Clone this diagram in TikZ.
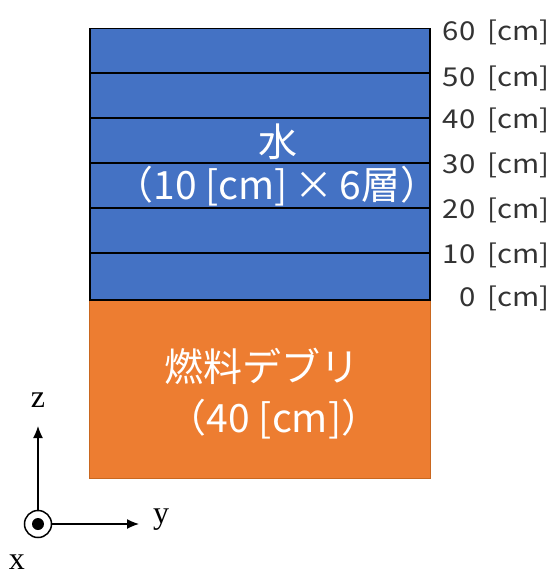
\documentclass[tikz,border=0pt]{standalone}
\usepackage{fontspec}
\setmainfont{Noto Sans CJK JP}
\newfontfamily\axfont{Liberation Serif}
\usetikzlibrary{arrows.meta}
\definecolor{wblue}{HTML}{4472C4}
\definecolor{forange}{HTML}{ED7D31}
\definecolor{oborder}{HTML}{C9671F}
\newcommand{\cmtxt}[1]{\scalebox{1.13}[1]{#1\hspace{0.42em}[cm]}}
\begin{document}
\begin{tikzpicture}[x=1pt,y=-1pt,
  mainlbl/.style={text=white,font=\fontsize{39}{42}\selectfont,inner sep=0pt},
  cmlbl/.style={text=black!80,font=\fontsize{26}{28}\selectfont,anchor=east,inner sep=0pt},
  axlbl/.style={font=\axfont\fontsize{32}{34}\selectfont,inner sep=0pt},
  axarrow/.style={line width=1.3pt,-{Latex[length=12pt,width=10pt]}}]
\useasboundingbox (0,0) rectangle (553,575);
% fuel debris
\node[draw=oborder,line width=0.8pt,fill=forange,minimum width=341pt,minimum height=179pt,inner sep=0pt,anchor=north west] (fuel) at (89,299) {};
% water
\node[draw=black,line width=1.5pt,fill=wblue,minimum width=340pt,minimum height=271pt,inner sep=0pt,anchor=north west] (water) at (89,28) {};
\foreach \yy in {73,118,163,208,253}
  \draw[line width=1.5pt] (89,\yy) -- (429,\yy);
\node[mainlbl] (w1) at (278,142) {水};
\node[mainlbl] (w2) at (277,186) {（10 [cm]\,×\,6層）};
\node[mainlbl] (f1) at (262,366) {燃料デブリ};
\node[mainlbl] (f2) at (274,419) {（40 [cm]）};
% height labels
\node[cmlbl] (l60) at (550,32) {\cmtxt{60}};
\node[cmlbl] (l50) at (550,78) {\cmtxt{50}};
\node[cmlbl] (l40) at (550,120) {\cmtxt{40}};
\node[cmlbl] (l30) at (550,165) {\cmtxt{30}};
\node[cmlbl] (l20) at (550,210) {\cmtxt{20}};
\node[cmlbl] (l10) at (550,255) {\cmtxt{10}};
\node[cmlbl] (l0) at (550,298) {\cmtxt{0}};
% axes
\node[circle,draw,line width=1.5pt,minimum size=27pt,inner sep=0pt] (o) at (38,524) {};
\fill (o.center) circle (6);
\coordinate (ztip) at (38,426);
\coordinate (ytip) at (139,524);
\draw[axarrow] (o.north) -- (ztip);
\draw[axarrow] (o.east) -- (ytip);
\node[axlbl] (zl) at (38,400) {z};
\node[axlbl] (yl) at (161,520) {y};
\node[axlbl] (xl) at (17,562) {x};
\end{tikzpicture}
\end{document}
